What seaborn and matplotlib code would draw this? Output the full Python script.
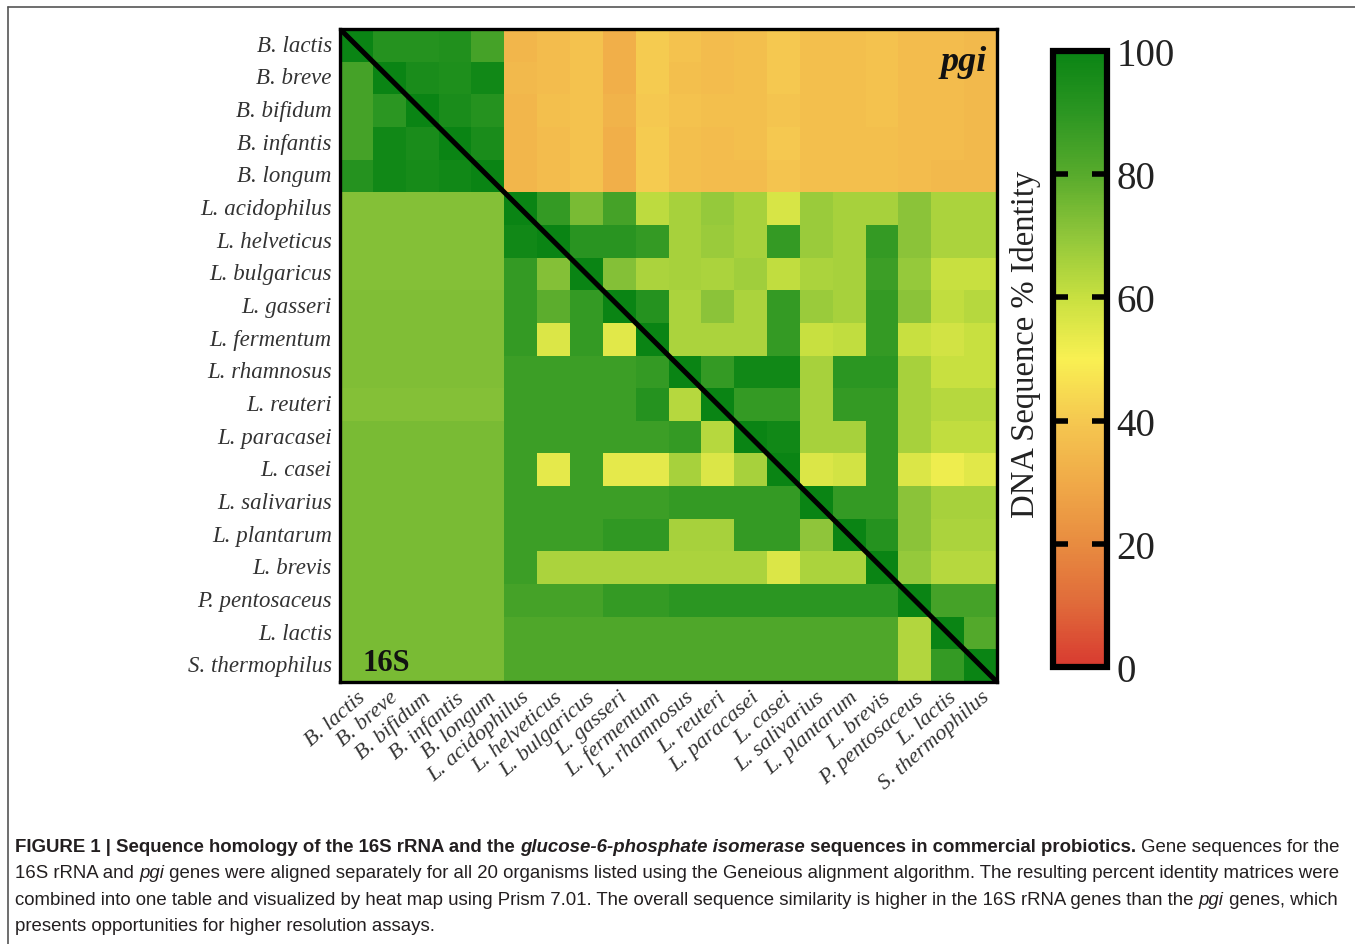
import numpy as np
import pandas as pd
import matplotlib
matplotlib.use("Agg")
import matplotlib.pyplot as plt
from matplotlib.colors import LinearSegmentedColormap
from matplotlib.lines import Line2D
import seaborn as sns

organisms = ["B. lactis", "B. breve", "B. bifidum", "B. infantis", "B. longum",
             "L. acidophilus", "L. helveticus", "L. bulgaricus", "L. gasseri",
             "L. fermentum", "L. rhamnosus", "L. reuteri", "L. paracasei",
             "L. casei", "L. salivarius", "L. plantarum", "L. brevis",
             "P. pentosaceus", "L. lactis", "S. thermophilus"]

# percent identity: upper triangle = pgi, lower triangle = 16S rRNA
row_b_lactis      = [100, 92, 92, 93, 84, 34, 36, 38, 32, 41, 38, 36, 37, 40, 37, 37, 38, 36, 36, 35]
row_b_breve       = [84, 100, 95, 94, 98, 35, 36, 38, 32, 41, 37, 36, 37, 40, 37, 37, 38, 36, 36, 35]
row_b_bifidum     = [84, 90, 100, 95, 92, 34, 37, 38, 33, 40, 38, 37, 37, 39, 37, 37, 38, 36, 36, 35]
row_b_infantis    = [84, 98, 95, 100, 95, 34, 36, 38, 32, 41, 37, 36, 37, 40, 37, 37, 37, 36, 36, 35]
row_b_longum      = [92, 98, 96, 98, 100, 34, 36, 38, 32, 41, 37, 36, 36, 39, 37, 37, 37, 36, 35, 35]
row_l_acidophilus = [72, 72, 72, 72, 72, 100, 88, 74, 84, 62, 66, 69, 66, 57, 68, 66, 66, 71, 65, 65]
row_l_helveticus  = [72, 72, 72, 72, 72, 98, 100, 91, 91, 88, 66, 68, 66, 88, 68, 66, 88, 71, 65, 65]
row_l_bulgaricus  = [72, 72, 72, 72, 72, 88, 72, 100, 72, 65, 66, 65, 67, 61, 65, 66, 86, 69, 60, 60]
row_l_gasseri     = [73, 73, 73, 73, 73, 88, 79, 88, 100, 92, 65, 71, 65, 88, 68, 66, 88, 71, 61, 63]
row_l_fermentum   = [73, 73, 73, 73, 73, 88, 56, 88, 55, 100, 65, 65, 65, 88, 60, 61, 88, 60, 58, 60]
row_l_rhamnosus   = [73, 73, 73, 73, 73, 86, 86, 86, 86, 88, 100, 88, 98, 98, 66, 90, 90, 66, 60, 60]
row_l_reuteri     = [72, 72, 72, 72, 72, 86, 86, 86, 86, 92, 63, 100, 88, 88, 66, 88, 88, 66, 63, 63]
row_l_paracasei   = [74, 74, 74, 74, 74, 86, 86, 86, 86, 86, 88, 63, 100, 98, 66, 66, 88, 66, 61, 61]
row_l_casei       = [74, 74, 74, 74, 74, 86, 54, 86, 54, 54, 66, 56, 66, 100, 56, 58, 88, 56, 52, 55]
row_l_salivarius  = [74, 74, 74, 74, 74, 86, 86, 86, 86, 86, 88, 88, 88, 88, 100, 88, 88, 71, 66, 66]
row_l_plantarum   = [74, 74, 74, 74, 74, 86, 86, 86, 89, 89, 66, 66, 88, 88, 70, 100, 92, 71, 65, 65]
row_l_brevis      = [74, 74, 74, 74, 74, 86, 65, 65, 65, 65, 65, 65, 65, 56, 65, 65, 100, 69, 63, 63]
row_p_pentosaceus = [74, 74, 74, 74, 74, 84, 84, 84, 88, 88, 90, 90, 90, 90, 90, 90, 90, 100, 84, 84]
row_l_lactis      = [74, 74, 74, 74, 74, 82, 82, 82, 82, 82, 82, 82, 82, 82, 82, 82, 82, 64, 100, 81]
row_s_thermo      = [74, 74, 74, 74, 74, 82, 82, 82, 82, 82, 82, 82, 82, 82, 82, 82, 82, 64, 88, 100]

rows = [row_b_lactis, row_b_breve, row_b_bifidum, row_b_infantis, row_b_longum,
        row_l_acidophilus, row_l_helveticus, row_l_bulgaricus, row_l_gasseri,
        row_l_fermentum, row_l_rhamnosus, row_l_reuteri, row_l_paracasei,
        row_l_casei, row_l_salivarius, row_l_plantarum, row_l_brevis,
        row_p_pentosaceus, row_l_lactis, row_s_thermo]

cbar_ticks = [0, 20, 40, 60, 80, 100]

df = pd.DataFrame(rows, index=organisms, columns=organisms)

cmap = LinearSegmentedColormap.from_list("identity", [
    (0.0, "#d83a30"), (0.1, "#e06a3a"), (0.2, "#e88c40"), (0.3, "#f0aa48"),
    (0.4, "#f5c850"), (0.5, "#f9f052"), (0.6, "#c8e040"), (0.7, "#90c63a"),
    (0.8, "#58ab2c"), (0.9, "#2c9622"), (1.0, "#0a8414")])

sns.set_theme(style="white")
plt.rcParams["font.family"] = ["Liberation Serif", "DejaVu Serif"]
plt.rcParams["axes.axisbelow"] = False

W, H = 1355, 945
fig = plt.figure(figsize=(W / 100, H / 100), dpi=100)

def box(x0, y0, x1, y1):
    return [x0 / W, 1 - y1 / H, (x1 - x0) / W, (y1 - y0) / H]

ax = fig.add_axes(box(340, 30, 997, 683))
cax = fig.add_axes(box(1053, 52, 1107, 668))

sns.heatmap(df, ax=ax, cmap=cmap, vmin=0, vmax=100, cbar_ax=cax,
            square=False, linewidths=0, cbar_kws={"ticks": cbar_ticks})

# heatmap frame and diagonal
for s in ax.spines.values():
    s.set_visible(True)
    s.set_linewidth(2.4)
    s.set_color("black")
n = len(organisms)
ax.plot([0, n], [0, n], color="black", lw=3.6, solid_capstyle="butt")
ax.set_xlim(0, n)
ax.set_ylim(n, 0)

ax.set_xticks(np.arange(n) + 0.5)
ax.set_yticks(np.arange(n) + 0.5)
ax.set_xticklabels(organisms, rotation=41, ha="right", va="top",
                   rotation_mode="anchor", fontstyle="italic", fontsize=16,
                   color="#333333")
ax.set_yticklabels(organisms, rotation=0, fontstyle="italic", fontsize=16.5,
                   color="#333333")
ax.tick_params(axis="both", length=0, pad=6)
ax.tick_params(axis="x", pad=4)
ax.set_xlabel("")
ax.set_ylabel("")

ax.text(0.985, 0.975, "pgi", transform=ax.transAxes, ha="right", va="top",
        fontsize=26, fontweight="bold", fontstyle="italic", color="#111111")
ax.text(0.035, 0.008, "16S", transform=ax.transAxes, ha="left", va="bottom",
        fontsize=22, fontweight="bold", color="#111111")

# colorbar styling
cbar = ax.collections[0].colorbar
cbar.outline.set_linewidth(4.5)
cbar.outline.set_edgecolor("black")
cax.set_axisbelow(False)
cax.yaxis.tick_right()
cax.tick_params(axis="y", which="both", left=True, right=True, direction="in",
                length=11, width=4, color="black", labelsize=28, pad=7,
                labelleft=False, labelright=True, labelcolor="#222222")
cax.set_yticks(cbar_ticks)
cax.set_yticklabels([str(t) for t in cbar_ticks])
cax.yaxis.set_label_position("left")
cax.set_ylabel("DNA Sequence % Identity", fontsize=23.5, color="#222222")
cax.yaxis.set_label_coords(-0.22, 0.525)

# outer figure border (top and left)
fig.add_artist(Line2D([8 / W, 1], [1 - 8 / H, 1 - 8 / H], color="#555555",
                      lw=1.2, transform=fig.transFigure))
fig.add_artist(Line2D([8 / W, 8 / W], [0, 1 - 8 / H], color="#555555",
                      lw=1.2, transform=fig.transFigure))

# caption with mixed styles
caption_lines = [
    [("FIGURE 1 | Sequence homology of the 16S rRNA and the ", "bold", "normal"),
     ("glucose-6-phosphate isomerase", "bold", "italic"),
     (" sequences in commercial probiotics.", "bold", "normal"),
     (" Gene sequences for the", "normal", "normal")],
    [("16S rRNA and ", "normal", "normal"), ("pgi", "normal", "italic"),
     (" genes were aligned separately for all 20 organisms listed using the Geneious alignment algorithm. The resulting percent identity matrices were",
      "normal", "normal")],
    [("combined into one table and visualized by heat map using Prism 7.01. The overall sequence similarity is higher in the 16S rRNA genes than the ",
      "normal", "normal"), ("pgi", "normal", "italic"),
     (" genes, which", "normal", "normal")],
    [("presents opportunities for higher resolution assays.", "normal", "normal")],
]
line_y = [848, 874, 901, 927]
renderer = fig.canvas.get_renderer()
cap_size = 13.4
for runs, yy in zip(caption_lines, line_y):
    xx = 15.0
    for txt, wt, st in runs:
        t = fig.text(xx / W, 1 - yy / H, txt, fontsize=cap_size, fontweight=wt,
                     fontstyle=st, family=["Liberation Sans", "DejaVu Sans"],
                     color="#231f20", ha="left", va="center")
        bb = t.get_window_extent(renderer)
        xx += bb.width

fig.savefig("out.png", dpi=100, facecolor="white")
